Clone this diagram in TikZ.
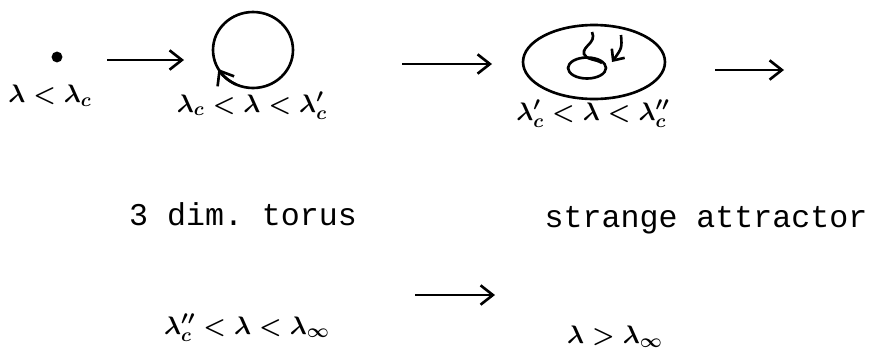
\documentclass[tikz,border=0pt]{standalone}
\usepackage{fontspec}
\setmonofont{Liberation Mono}
\usetikzlibrary{arrows.meta}
\usetikzlibrary{shapes.geometric}

\begin{document}
\begin{tikzpicture}[
		x=0.02cm, y=0.02cm,
		>={Straight Barb[length=7pt,width=11pt]},
		line width=1.5pt,
		label node/.style={font=\fontsize{15}{18}\selectfont\boldmath, inner sep=0pt},
		word node/.style={font=\fontsize{18}{22}\selectfont\ttfamily, inner sep=0pt},
		orbit node/.style={draw, ellipse, inner sep=0pt}
		]
		\useasboundingbox (0,0) rectangle (882,353);
		
		% attractors
		\node[circle, fill, inner sep=2.2pt] (n1) at (57,296) {};
		\node[orbit node, minimum width=1.6cm, minimum height=1.52cm] (n2) at (253,303) {};
		\node[orbit node, minimum width=2.84cm, minimum height=1.48cm] (n3) at (594,291) {};
		\node[orbit node, minimum width=0.76cm, minimum height=0.42cm] (n4) at (587,285) {};
		
		% parameter ranges
		\node[label node] (l1) at (50,257) {$\lambda<\lambda_c$};
		\node[label node] (l2) at (252,247) {$\lambda_c<\lambda<\lambda_c'$};
		\node[label node] (l3) at (593,239) {$\lambda_c'<\lambda<\lambda_c''$};
		\node[word node] (w4) at (243,139) {3 dim. torus};
		\node[label node] (l4) at (247,25) {$\lambda_c''<\lambda<\lambda_\infty$};
		\node[word node] (w5) at (706,133) {strange attractor};
		\node[label node] (l5) at (615,16) {$\lambda>\lambda_\infty$};
		
		\coordinate (a1) at (107,293);
		\coordinate (b1) at (184,293);
		\coordinate (a2) at (402,289);
		\coordinate (b2) at (492,289);
		\coordinate (a3) at (715,283);
		\coordinate (b3) at (784,283);
		\coordinate (a4) at (415,58);
		\coordinate (b4) at (495,58);
		
		\path[->]
		(a1) edge (b1)
		(a2) edge (b2)
		(a3) edge (b3)
		(a4) edge (b4);
		
		% flow on the cycle and on the torus
		\draw[->] ([shift={(245:40 and 38)}]n2.center) arc[start angle=245, end angle=210, x radius=40, y radius=38];
		\draw (592,321) .. controls (597,310) and (582,307) .. (584,299) .. controls (586,293) and (596,294) .. (602,290);
		\draw[-{Straight Barb[length=5pt,width=9pt]}] (621,318) .. controls (622,305) .. (612,291);
	\end{tikzpicture}
\end{document}
